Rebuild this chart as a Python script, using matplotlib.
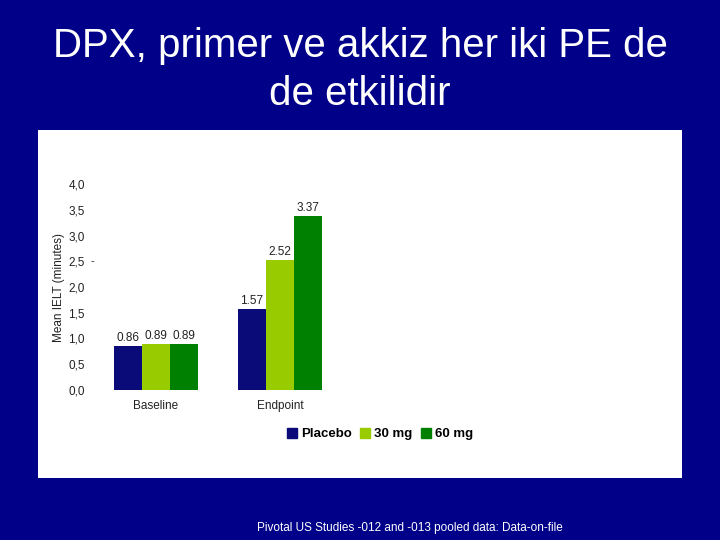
import matplotlib
matplotlib.use("Agg")
import matplotlib.pyplot as plt
import matplotlib.patches as patches
import numpy as np

plt.rcParams['font.family'] = ['Liberation Sans', 'DejaVu Sans']

# data
categories = ['Baseline', 'Endpoint']
series = ['Placebo', '30 mg', '60 mg']
placebo = [0.86, 1.57]
mg30 = [0.89, 2.52]
mg60 = [0.89, 3.37]
yticks = [0.0, 0.5, 1.0, 1.5, 2.0, 2.5, 3.0, 3.5, 4.0]
ytick_labels = ['0,0', '0,5', '1,0', '1,5', '2,0', '2,5', '3,0', '3,5', '4,0']

colors = ['#0a0a78', '#99cc00', '#008000']
bg = '#000088'

W, H = 720, 540
fig = plt.figure(figsize=(7.2, 5.4), dpi=100, facecolor=bg)

# white panel
fig.patches.append(patches.Rectangle((38 / W, 1 - 478 / H), (682 - 38) / W, (478 - 130) / H,
                                     transform=fig.transFigure, facecolor='white',
                                     edgecolor='none', zorder=-5))

fig.text(0.5, 1 - 46 / H, 'DPX, primer ve akkiz her iki PE de', color='white',
         fontsize=29, ha='center', va='center')
fig.text(0.5, 1 - 94 / H, 'de etkilidir', color='white',
         fontsize=29, ha='center', va='center')

# axes placed in pixel terms
left, right, top, bottom = 100, 340, 184, 390
ax = fig.add_axes([left / W, 1 - bottom / H, (right - left) / W, (bottom - top) / H])
ax.set_zorder(2)
ax.set_facecolor('none')
ax.set_ylim(0, 4)
ax.set_xlim(-(156 - left) / 124, 1 + (right - 280) / 124)

x = np.arange(len(categories))
w = 0.225
for i, (vals, c) in enumerate(zip([placebo, mg30, mg60], colors)):
    pos = x + (i - 1) * w
    ax.bar(pos, vals, width=w, color=c, label=series[i], zorder=2)
    for p, v in zip(pos, vals):
        ax.text(p, v + 0.04, f'{v:.2f}', ha='center', va='bottom', fontsize=8.5, color='#222222')

for s in ax.spines.values():
    s.set_visible(False)
ax.set_yticks(yticks)
ax.set_yticklabels(ytick_labels)
ax.set_xticks(x)
ax.set_xticklabels(categories)
ax.tick_params(axis='both', length=0, labelsize=8.5, colors='#222222')
ax.tick_params(axis='y', pad=11)
ax.tick_params(axis='x', pad=7)
ax.set_ylabel('Mean IELT (minutes)', fontsize=8.5, color='#222222', labelpad=2)
ax.text(-0.515, 2.5, '-', fontsize=8, ha='center', va='center', color='#222222')

leg = fig.legend(handles=[patches.Patch(color=c) for c in colors], labels=series,
                 loc='center', bbox_to_anchor=(380 / W, 1 - 434 / H), ncol=3, frameon=False,
                 prop={'weight': 'bold', 'size': 9.5}, handlelength=0.8, handleheight=0.8,
                 handletextpad=0.3, columnspacing=0.6)
leg.set_zorder(3)

fig.text(410 / W, 1 - 528 / H, 'Pivotal US Studies -012 and -013 pooled data: Data-on-file',
         color='white', fontsize=8.5, ha='center', va='center')

fig.savefig('out.png', dpi=100, facecolor=bg)
